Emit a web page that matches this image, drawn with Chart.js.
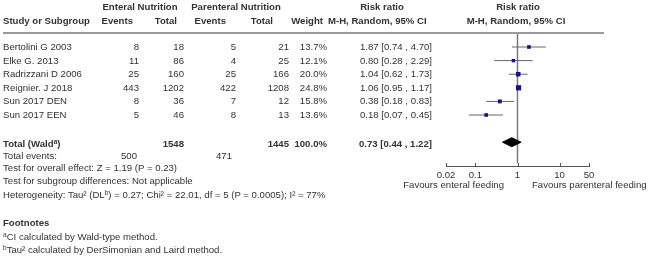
<!DOCTYPE html>
<html>
<head>
<meta charset="utf-8">
<script src="https://cdn.jsdelivr.net/npm/chart.js@4.4.0/dist/chart.umd.min.js"></script>
<style>
body { margin:0; background:#fff; overflow:hidden; }
#wrap { position:relative; width:650px; height:261px; font-family:"Liberation Sans", Arial, sans-serif; font-size:9.6px; color:#333; }
#plot { position:absolute; left:0; top:0; }
.t { position:absolute; white-space:nowrap; line-height:12px; }
.b { font-weight:bold; }
sup { font-size:6.5px; vertical-align:top; line-height:7px; }
#rule { position:absolute; left:3px; top:32px; width:601px; height:2px; background:#9a9a9a; }
</style>
</head>
<body>
<div id="wrap">
  <canvas id="plot" width="650" height="261"></canvas>
  <div id="rule"></div>
</div>
<script>
// study data
const studies = ["Bertolini G 2003", "Elke G. 2013", "Radrizzani D 2006", "Reignier. J 2018", "Sun 2017 DEN", "Sun 2017 EEN"];
const enEvents = [8, 11, 25, 443, 8, 5];
const enTotal = [18, 86, 160, 1202, 36, 46];
const pnEvents = [5, 4, 25, 422, 7, 8];
const pnTotal = [21, 25, 166, 1208, 12, 13];
const weights = [13.7, 12.1, 20.0, 24.8, 15.8, 13.6];
const riskRatio = [1.87, 0.80, 1.04, 1.06, 0.38, 0.18];
const ciLow = [0.74, 0.28, 0.62, 0.95, 0.18, 0.07];
const ciHigh = [4.70, 2.29, 1.73, 1.17, 0.83, 0.45];

// pooled result
const pooledRR = 0.73;
const pooledLow = 0.44;
const pooledHigh = 1.22;
const totalEN = [500, 1548]; // events, total
const totalPN = [471, 1445];

const xTicks = [0.02, 0.1, 1, 10, 50];

const wrap = document.getElementById("wrap");
const rowY = i => 47 + 13.6 * i;
const totalRow = 7;

function put(txt, x, y, align, bold) {
    const d = document.createElement("div");
    d.className = "t" + (bold ? " b" : "");
    d.innerHTML = txt;
    d.style.top = (y - 6) + "px";
    if (align === "right") d.style.right = (650 - x) + "px";
    else if (align === "center") { d.style.left = x + "px"; d.style.transform = "translateX(-50%)"; }
    else d.style.left = x + "px";
    wrap.appendChild(d);
}
const f2 = v => v.toFixed(2);
const ciText = (m, l, h) => f2(m) + " [" + f2(l) + " , " + f2(h) + "]";

// header
put("Enteral Nutrition", 140, 7, "center", true);
put("Parenteral Nutrition", 236, 7, "center", true);
put("Risk ratio", 382, 7, "center", true);
put("Risk ratio", 518, 7, "center", true);
put("Study or Subgroup", 3, 21, "left", true);
put("Events", 133, 21, "right", true);
put("Total", 177, 21, "right", true);
put("Events", 226, 21, "right", true);
put("Total", 273, 21, "right", true);
put("Weight", 323, 21, "right", true);
put("M-H, Random, 95% CI", 328, 21, "left", true);
put("M-H, Random, 95% CI", 516, 21, "center", true);

// study rows
studies.forEach((s, i) => {
    const y = rowY(i);
    put(s, 3, y, "left");
    put(enEvents[i], 139, y, "right");
    put(enTotal[i], 184, y, "right");
    put(pnEvents[i], 236, y, "right");
    put(pnTotal[i], 289, y, "right");
    put(weights[i].toFixed(1) + "%", 327, y, "right");
    put(ciText(riskRatio[i], ciLow[i], ciHigh[i]), 432, y, "right");
});

// totals
const totW = weights.reduce((a, b) => a + b, 0);
put("Total (Wald<sup>a</sup>)", 3, 144, "left", true);
put(totalEN[1], 184, 144, "right", true);
put(totalPN[1], 289, 144, "right", true);
put(totW.toFixed(1) + "%", 327, 144, "right", true);
put(ciText(pooledRR, pooledLow, pooledHigh), 432, 144, "right", true);
put("Total events:", 3, 156, "left");
put(totalEN[0], 137, 156, "right");
put(totalPN[0], 232, 156, "right");
put("Test for overall effect: Z = 1.19 (P = 0.23)", 3, 168, "left");
put("Test for subgroup differences: Not applicable", 3, 181, "left");
put("Heterogeneity: Tau\u00b2 (DL<sup>b</sup>) = 0.27; Chi\u00b2 = 22.01, df = 5 (P = 0.0005); I\u00b2 = 77%", 3, 195, "left");
put("Footnotes", 3, 223, "left", true);
put("<sup>a</sup>CI calculated by Wald-type method.", 3, 237, "left");
put("<sup>b</sup>Tau\u00b2 calculated by DerSimonian and Laird method.", 3, 250, "left");

put("Favours enteral feeding", 504, 185, "right");
put("Favours parenteral feeding", 532, 185, "left");

// forest plot
const datasets = [];
datasets.push({
    data: riskRatio.map((v, i) => ({ x: v, y: i })),
    pointStyle: "rect",
    pointRadius: ctx => 1.2 + weights[ctx.dataIndex] * 0.1,
    backgroundColor: "#12128a",
    borderWidth: 0
});
datasets.push({
    data: [
        { x: pooledLow, y: totalRow }, { x: pooledRR, y: totalRow - 0.33 },
        { x: pooledHigh, y: totalRow }, { x: pooledRR, y: totalRow + 0.33 },
        { x: pooledLow, y: totalRow }
    ],
    showLine: true, fill: "shape", backgroundColor: "#000", borderColor: "#000",
    borderWidth: 1, pointRadius: 0
});
studies.forEach((s, i) => {
    datasets.push({
        data: [{ x: ciLow[i], y: i }, { x: ciHigh[i], y: i }],
        showLine: true, borderColor: "#666", borderWidth: 1, pointRadius: 0
    });
});
datasets.push({
    data: [{ x: 1, y: -1.03 }, { x: 1, y: 8.55 }],
    showLine: true, borderColor: "#7a7a7a", borderWidth: 1.5, pointRadius: 0
});

// small tick marks pointing up from the axis line
const tickMarks = {
    id: "tickMarks",
    afterDraw(chart) {
        const s = chart.scales.x, ctx = chart.ctx, y = chart.chartArea.bottom;
        ctx.save();
        ctx.strokeStyle = "#555";
        ctx.lineWidth = 1;
        s.ticks.forEach(t => {
            const x = Math.round(s.getPixelForValue(t.value)) + 0.5;
            ctx.beginPath();
            ctx.moveTo(x, y - 3);
            ctx.lineTo(x, y + 1);
            ctx.stroke();
        });
        ctx.restore();
    }
};

new Chart(document.getElementById("plot"), {
    type: "scatter",
    data: { datasets: datasets },
    plugins: [tickMarks],
    options: {
        responsive: false,
        animation: false,
        devicePixelRatio: 1,
        layout: { padding: { left: 446, right: 61, top: 33, bottom: 75 } },
        plugins: { legend: { display: false }, tooltip: { enabled: false } },
        scales: {
            x: {
                type: "logarithmic",
                min: 0.02, max: 50,
                afterBuildTicks: s => { s.ticks = xTicks.map(v => ({ value: v })); },
                afterFit: s => { s.height = 20; },
                ticks: {
                    autoSkip: false, maxRotation: 0, padding: 1,
                    color: "#333",
                    font: { family: "Liberation Sans", size: 9.6 },
                    callback: v => String(v)
                },
                grid: { drawOnChartArea: false, tickLength: 3, color: "transparent" },
                border: { color: "#555", width: 1 }
            },
            y: { type: "linear", min: -1.03, max: 8.75, reverse: true, display: false }
        }
    }
});
</script>
</body>
</html>
